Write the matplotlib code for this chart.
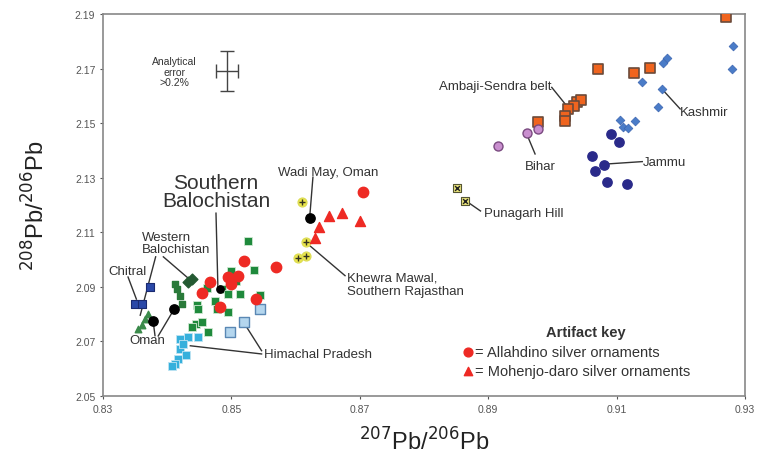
import matplotlib.pyplot as plt

plt.rcParams['font.family'] = ['Liberation Sans', 'DejaVu Sans']

# Pb isotope data (207Pb/206Pb, 208Pb/206Pb)
ambaji_x = [0.9270, 0.9071, 0.9127, 0.9152, 0.9038, 0.9045, 0.9033, 0.9025, 0.9020, 0.9020, 0.8978]
ambaji_y = [2.1888, 2.1698, 2.1684, 2.1701, 2.1578, 2.1585, 2.1564, 2.1552, 2.1527, 2.1509, 2.1503]

bihar_x = [0.8916, 0.8960, 0.8978]
bihar_y = [2.1417, 2.1464, 2.1478]

kashmir_x = [0.9282, 0.9279, 0.9179, 0.9172, 0.9139, 0.9170, 0.9165, 0.9105, 0.9129, 0.9110, 0.9118]
kashmir_y = [2.1784, 2.1698, 2.1737, 2.1720, 2.1652, 2.1625, 2.1558, 2.1512, 2.1509, 2.1485, 2.1481]

jammu_x = [0.9092, 0.9103, 0.9061, 0.9080, 0.9066, 0.9085, 0.9116]
jammu_y = [2.1460, 2.1430, 2.1381, 2.1348, 2.1323, 2.1285, 2.1277]

punagarh_x = [0.8851, 0.8864]
punagarh_y = [2.1261, 2.1216]

khewra_x = [0.8610, 0.8616, 0.8604, 0.8616]
khewra_y = [2.1210, 2.1065, 2.1006, 2.1012]

oman_x = [0.8378, 0.8410, 0.8622]
oman_y = [2.0776, 2.0819, 2.1151]

sbal_black_x = [0.8482]
sbal_black_y = [2.0892]

sbal_x = [0.8526, 0.8499, 0.8535, 0.8485, 0.8495, 0.8513, 0.8545, 0.8446, 0.8474, 0.8462,
          0.8448, 0.8478, 0.8495, 0.8445, 0.8454, 0.8464, 0.8439, 0.8507]
sbal_y = [2.1068, 2.0958, 2.0962, 2.0892, 2.0874, 2.0874, 2.0870, 2.0833, 2.0848, 2.0896,
          2.0819, 2.0819, 2.0808, 2.0764, 2.0771, 2.0735, 2.0753, 2.0921]

wbal_x = [0.8438, 0.8432]
wbal_y = [2.0929, 2.0918]
wbal_small_x = [0.8412, 0.8415, 0.8420, 0.8423]
wbal_small_y = [2.0910, 2.0892, 2.0866, 2.0837]
wbal_tri_x = [0.8370, 0.8365, 0.8360, 0.8355]
wbal_tri_y = [2.0800, 2.0782, 2.0760, 2.0746]

chitral_x = [0.8350, 0.8360, 0.8373]
chitral_y = [2.0837, 2.0837, 2.0899]

himachal_x = [0.8420, 0.8432, 0.8448, 0.8420, 0.8430, 0.8417, 0.8412, 0.8407, 0.8425]
himachal_y = [2.0709, 2.0716, 2.0716, 2.0672, 2.0650, 2.0636, 2.0617, 2.0610, 2.0691]
himachal_pale_x = [0.8498, 0.8519, 0.8545]
himachal_pale_y = [2.0733, 2.0770, 2.0819]

allahdino_x = [0.8705, 0.8520, 0.8570, 0.8495, 0.8510, 0.8500, 0.8467, 0.8454, 0.8482, 0.8538]
allahdino_y = [2.1246, 2.0995, 2.0973, 2.0935, 2.0940, 2.0910, 2.0917, 2.0877, 2.0825, 2.0855]

mohenjo_x = [0.8652, 0.8672, 0.8700, 0.8636, 0.8630]
mohenjo_y = [2.1161, 2.1171, 2.1142, 2.1118, 2.1078]

xticks = [0.83, 0.85, 0.87, 0.89, 0.91, 0.93]
yticks = [2.05, 2.07, 2.09, 2.11, 2.13, 2.15, 2.17, 2.19]

fig = plt.figure(figsize=(7.75, 4.6), dpi=100)
ax = fig.add_axes([0.1329, 0.137, 0.8284, 0.8304])

txt = '#333333'

# ore fields
ax.scatter(ambaji_x, ambaji_y, marker='s', s=58, color='#f0641e', edgecolors='#6b4a3a', linewidths=1.2, zorder=3)
ax.scatter(bihar_x, bihar_y, marker='o', s=42, color='#c98fcf', edgecolors='#7a4a80', linewidths=1, zorder=3)
ax.scatter(kashmir_x, kashmir_y, marker='D', s=20, color='#4a7cc8', edgecolors='#3a64b0', linewidths=0.5, zorder=3)
ax.scatter(jammu_x, jammu_y, marker='o', s=45, color='#2a2a8a', edgecolors='#2a2a8a', zorder=3)
ax.scatter(punagarh_x, punagarh_y, marker='s', s=38, color='#e8e27a', edgecolors='#555533', linewidths=0.8, zorder=3)
ax.scatter(punagarh_x, punagarh_y, marker='x', s=12, color='#222222', linewidths=1, zorder=4)
ax.scatter(khewra_x, khewra_y, marker='o', s=40, color='#eee84a', edgecolors='#dddd55', zorder=3)
ax.scatter(khewra_x, khewra_y, marker='+', s=14, color='#333322', linewidths=1, zorder=4)
ax.scatter(sbal_x, sbal_y, marker='s', s=28, color='#1f8a3c', edgecolors='#cfe8d2', linewidths=0.6, zorder=3)
ax.scatter(wbal_small_x, wbal_small_y, marker='s', s=18, color='#2a7a3a', zorder=3)
ax.scatter(wbal_tri_x, wbal_tri_y, marker='^', s=22, color='#3a8a4a', zorder=3)
ax.scatter(wbal_x, wbal_y, marker='D', s=30, color='#245a32', zorder=3)
ax.scatter(chitral_x, chitral_y, marker='s', s=38, color='#2a48a8', edgecolors='#1a2a70', linewidths=0.8, zorder=3)
ax.scatter(himachal_x, himachal_y, marker='s', s=36, color='#36b0dc', edgecolors='#bfe4f2', linewidths=0.6, zorder=3)
ax.scatter(himachal_pale_x, himachal_pale_y, marker='s', s=46, color='#b4d6ee', edgecolors='#5a88b4', linewidths=1, zorder=3)
ax.scatter(oman_x, oman_y, marker='o', s=45, color='black', zorder=4)
ax.scatter(sbal_black_x, sbal_black_y, marker='o', s=28, color='black', zorder=4)

# artifacts
ax.scatter(allahdino_x, allahdino_y, marker='o', s=56, color='#ee2a24', zorder=5)
ax.scatter(mohenjo_x, mohenjo_y, marker='^', s=52, color='#ee2a24', zorder=5)

# analytical error cross
ax.errorbar([0.8493], [2.1692], xerr=[0.0017], yerr=[0.0073], color='#444444', lw=1, capsize=5, capthick=1)
ax.text(0.8411, 2.1689, 'Analytical\nerror\n>0.2%', fontsize=7.5, color=txt, ha='center', va='center', linespacing=1.05)

lbl = dict(fontsize=9.5, color=txt)
ln = dict(color='#333333', lw=1)

def note(text, tx, ty, lx1, ly1, lx2, ly2, **kw):
    ax.text(tx, ty, text, **{**lbl, **kw})
    ax.plot([lx1, lx2], [ly1, ly2], **ln)

note('Southern\nBalochistan', 0.8476, 2.1180, 0.8476, 2.1170, 0.8479, 2.0895, fontsize=15, ha='center', va='bottom', linespacing=0.95)
note('Western\nBalochistan', 0.8361, 2.1015, 0.8382, 2.1010, 0.8358, 2.0796, ha='left', va='bottom', linespacing=1.0)
ax.plot([0.8394, 0.8436], [2.1010, 2.0925], **ln)
note('Chitral', 0.8308, 2.0958, 0.8339, 2.0936, 0.8352, 2.0855, ha='left', va='center')
note('Oman', 0.8369, 2.0706, 0.8381, 2.0721, 0.8378, 2.0776, ha='center', va='center')
ax.plot([0.8386, 0.8409], [2.0720, 2.0811], **ln)
note('Himachal Pradesh', 0.8550, 2.0654, 0.8547, 2.0654, 0.8436, 2.0684, ha='left', va='center')
ax.plot([0.8547, 0.8519], [2.0666, 2.0770], **ln)
note('Wadi May, Oman', 0.8573, 2.1320, 0.8627, 2.1302, 0.8622, 2.1156, ha='left', va='center')
note('Khewra Mawal,\nSouthern Rajasthan', 0.8680, 2.0909, 0.8677, 2.0941, 0.8619, 2.1057, ha='left', va='center', linespacing=1.1)
note('Punagarh Hill', 0.8893, 2.1171, 0.8888, 2.1178, 0.8866, 2.1214, ha='left', va='center')
note('Ambaji-Sendra belt', 0.8998, 2.1636, 0.8999, 2.1631, 0.9022, 2.1564, ha='right', va='center')
note('Bihar', 0.8957, 2.1344, 0.8973, 2.1387, 0.8960, 2.1460, ha='left', va='center')
note('Jammu', 0.9141, 2.1359, 0.9140, 2.1359, 0.9083, 2.1350, ha='left', va='center')
note('Kashmir', 0.9199, 2.1542, 0.9199, 2.1552, 0.9173, 2.1619, ha='left', va='center')

# artifact key
ax.text(0.9052, 2.0735, 'Artifact key', fontsize=10.5, fontweight='bold', color=txt, ha='center', va='center')
ax.scatter([0.8869], [2.0660], marker='o', s=40, color='#ee2a24', zorder=5)
ax.scatter([0.8869], [2.0593], marker='^', s=36, color='#ee2a24', zorder=5)
ax.text(0.8879, 2.0660, '= Allahdino silver ornaments', fontsize=10.5, color=txt, ha='left', va='center')
ax.text(0.8879, 2.0593, '= Mohenjo-daro silver ornaments', fontsize=10.5, color=txt, ha='left', va='center')

ax.set_xlim(0.83, 0.93)
ax.set_ylim(2.05, 2.19)
ax.set_xticks(xticks)
ax.set_yticks(yticks)
ax.set_xticklabels(['%.2f' % v for v in xticks])
ax.set_yticklabels(['%.2f' % v for v in yticks])
ax.tick_params(labelsize=7.5, colors='#555555', length=2)
for s in ax.spines.values():
    s.set_color('#888888')
    s.set_linewidth(1.2)

ax.set_xlabel('$^{207}$Pb/$^{206}$Pb', fontsize=17, color='#222222', labelpad=10)
ax.set_ylabel('$^{208}$Pb/$^{206}$Pb', fontsize=17, color='#222222', labelpad=18)

fig.savefig('out.png', dpi=100)
